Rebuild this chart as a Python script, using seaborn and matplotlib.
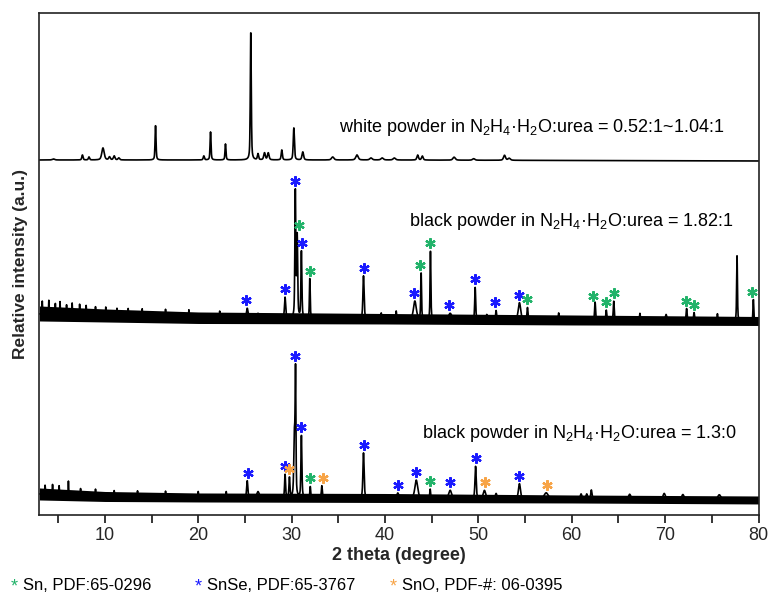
import numpy as np
import pandas as pd
import matplotlib
matplotlib.use("Agg")
import matplotlib.pyplot as plt
from matplotlib.ticker import MultipleLocator, NullLocator
import seaborn as sns

# ---------------------------------------------------------------------------
# XRD data: peak position 2θ (deg), height above background (a.u.), FWHM (deg)
# ---------------------------------------------------------------------------
white_pos = [4.5, 7.6, 8.3, 9.8, 10.5, 11.0, 11.5, 15.43, 20.6, 21.32, 22.92,
             25.63, 26.4, 27.1, 27.5, 28.95, 30.24, 31.2, 34.4, 37.0, 38.5,
             39.7, 41.0, 43.5, 44.0, 47.4, 49.5, 52.8, 53.3]
white_height = [1, 5, 3, 12, 3, 4, 2, 35, 4, 28, 16,
                130, 6, 7, 7, 10, 32, 8, 3, 5, 2,
                2, 2, 5, 4, 3, 1.5, 5, 2]
white_fwhm = [0.3, 0.15, 0.15, 0.3, 0.2, 0.2, 0.2, 0.12, 0.15, 0.12, 0.12,
              0.12, 0.15, 0.2, 0.2, 0.15, 0.15, 0.2, 0.3, 0.3, 0.3,
              0.3, 0.3, 0.2, 0.2, 0.3, 0.3, 0.25, 0.3]

mid_pos = [3.3, 4.0, 4.7, 5.2, 5.9, 6.5, 7.3, 8.0, 9.0, 10.1, 11.3, 12.5, 14.0,
           16.5, 19.0, 22.3, 25.25, 26.4, 29.3, 30.4, 30.6, 31.05, 31.95,
           37.7, 39.6, 41.2, 43.2, 43.87, 44.87, 46.98, 49.66, 50.9, 51.9, 54.4,
           55.26, 58.6, 62.5, 63.7, 64.5, 67.3, 70.1, 72.3, 73.1, 75.6, 77.7, 79.45]
mid_height = [13, 14, 11, 13, 10, 12, 11, 10, 9, 9, 8, 8, 8,
              8, 8, 7, 10, 5, 21, 126, 80, 68, 41,
              43, 6, 8, 18, 47, 70, 6, 32, 5, 9, 17,
              12, 7, 18, 10, 19, 7, 6, 12, 8, 7, 65, 22]
mid_fwhm = [0.06, 0.06, 0.06, 0.06, 0.06, 0.06, 0.06, 0.06, 0.06, 0.06, 0.06, 0.06, 0.06,
            0.06, 0.06, 0.06, 0.2, 0.2, 0.15, 0.12, 0.12, 0.12, 0.1,
            0.15, 0.08, 0.1, 0.35, 0.1, 0.1, 0.4, 0.12, 0.15, 0.12, 0.3,
            0.12, 0.1, 0.12, 0.12, 0.12, 0.1, 0.2, 0.12, 0.12, 0.1, 0.1, 0.1]

low_pos = [3.6, 4.4, 5.1, 6.1, 7.4, 9.0, 11.0, 13.5, 16.5, 20.0, 23.0,
           25.25, 26.4, 29.3, 29.77, 30.3, 30.42, 31.05, 32.0, 33.24,
           37.7, 41.37, 43.35, 44.84, 46.98, 49.7, 50.65, 51.9, 54.4, 57.26,
           61.0, 61.6, 62.1, 66.2, 69.9, 71.9, 75.8]
low_height = [9, 10, 9, 14, 7, 7, 6, 6, 6, 6, 6,
              17, 6, 23, 20, 60, 120, 63, 11, 12,
              45, 5, 18, 9, 8, 32, 8, 5, 15, 6,
              5, 5, 9, 5, 6, 5, 5]
low_fwhm = [0.08, 0.08, 0.08, 0.06, 0.08, 0.08, 0.08, 0.08, 0.08, 0.08, 0.08,
            0.15, 0.3, 0.12, 0.12, 0.15, 0.1, 0.12, 0.1, 0.12,
            0.15, 0.25, 0.35, 0.1, 0.35, 0.15, 0.3, 0.2, 0.25, 0.5,
            0.2, 0.2, 0.15, 0.3, 0.3, 0.3, 0.4]

# background level and noise band (above / below the background) per pattern
bg_x = [3, 10, 20, 40, 60, 80]
white_bg = [355, 355, 355, 355, 354.5, 354]
mid_bg = [201, 199, 197, 196, 195, 194]
mid_noise_hi = [8, 7, 6, 5.5, 5, 4.5]
mid_noise_lo = [7, 6, 5.5, 5, 5, 4.5]
low_bg = [21, 18.5, 17.5, 17, 16, 15]
low_noise_hi = [6, 5, 4.5, 4.5, 4, 4]
low_noise_lo = [6, 5, 4.5, 4.5, 4, 4]

# indexed reflections: phase label per marked peak
mid_mark_pos = [25.1, 29.3, 30.4, 30.74, 31.09, 32.0, 37.7, 43.16, 43.77, 44.8,
                46.9, 49.66, 51.83, 54.3, 55.2, 62.3, 63.7, 64.5, 72.25, 73.1, 79.27]
mid_mark_phase = ["SnSe", "SnSe", "SnSe", "Sn", "SnSe", "Sn", "SnSe", "SnSe", "Sn", "Sn",
                  "SnSe", "SnSe", "SnSe", "SnSe", "Sn", "Sn", "Sn", "Sn", "Sn", "Sn", "Sn"]
low_mark_pos = [25.28, 29.24, 29.77, 30.39, 31.03, 32.0, 33.4, 37.7, 41.4, 43.35,
                44.84, 47.0, 49.7, 50.7, 54.4, 57.3]
low_mark_phase = ["SnSe", "SnSe", "SnO", "SnSe", "SnSe", "Sn", "SnO", "SnSe", "SnSe", "SnSe",
                  "Sn", "SnSe", "SnSe", "SnO", "SnSe", "SnO"]

phase_colors = {"Sn": "#22b36a", "SnSe": "#1a1aff", "SnO": "#f7a447"}
legend_labels = [("Sn", "Sn, PDF:65-0296"),
                 ("SnSe", "SnSe, PDF:65-3767"),
                 ("SnO", "SnO, PDF-#: 06-0395")]

labels = [r"white powder in N$_\mathregular{2}$H$_\mathregular{4}$·H$_\mathregular{2}$O:urea = 0.52:1~1.04:1",
          r"black powder in N$_\mathregular{2}$H$_\mathregular{4}$·H$_\mathregular{2}$O:urea = 1.82:1",
          r"black powder in N$_\mathregular{2}$H$_\mathregular{4}$·H$_\mathregular{2}$O:urea = 1.3:0"]

# ---------------------------------------------------------------------------
sns.set_style("ticks")
plt.rcParams["font.family"] = ["Liberation Sans", "DejaVu Sans"]
plt.rcParams["mathtext.fontset"] = "custom"
plt.rcParams["mathtext.rm"] = "Liberation Sans"
plt.rcParams["mathtext.it"] = "Liberation Sans:italic"
plt.rcParams["mathtext.bf"] = "Liberation Sans:bold"
NARROW = ["Liberation Sans Narrow", "Liberation Sans", "DejaVu Sans"]

tt = np.linspace(3, 80, 3851)


def pattern(pos, height, fwhm, bg):
    y = np.interp(tt, bg_x, bg)
    for p, h, w in zip(pos, height, fwhm):
        d = (tt - p) / (w / 2)
        y = y + h * (0.5 / (1 + d ** 2) + 0.5 * np.exp(-np.log(2) * d ** 2))
    return y


white = pattern(white_pos, white_height, white_fwhm, white_bg)
mid = pattern(mid_pos, mid_height, mid_fwhm, mid_bg)
low = pattern(low_pos, low_height, low_fwhm, low_bg)

fig = plt.figure(figsize=(7.71, 6.04), dpi=100)
ax = fig.add_axes([0.0512, 0.1474, 0.9326, 0.8311])

# noise bands of the two black-powder scans
for bg, hi, lo in [(mid_bg, mid_noise_hi, mid_noise_lo), (low_bg, low_noise_hi, low_noise_lo)]:
    base = np.interp(tt, bg_x, bg)
    ax.fill_between(tt, base - np.interp(tt, bg_x, lo), base + np.interp(tt, bg_x, hi),
                    color="black", linewidth=0)

frames = pd.concat([pd.DataFrame({"two_theta": tt, "intensity": y, "sample": name})
                    for name, y in [("white", white), ("mid", mid), ("low", low)]])
sns.lineplot(data=frames, x="two_theta", y="intensity", units="sample", estimator=None,
             sort=False, color="black", linewidth=1.2, ax=ax)


def mark(curve, positions, phases):
    for p, ph in zip(positions, phases):
        win = (tt > p - 0.2) & (tt < p + 0.2)
        ax.plot([p], [curve[win].max() + 8], linestyle="none", marker=(6, 2, 0),
                markersize=7.5, markeredgewidth=1.6, color=phase_colors[ph])


mark(mid, mid_mark_pos, mid_mark_phase)
mark(low, low_mark_pos, low_mark_phase)

text_kw = dict(ha="right", va="center", fontsize=13, color="black")
ax.text(76.35, 387, labels[0], **text_kw)
ax.text(77.4, 293, labels[1], **text_kw)
ax.text(77.7, 81, labels[2], **text_kw)

ax.set_xlim(3, 80)
ax.set_ylim(0, 502)
ax.xaxis.set_major_locator(MultipleLocator(10))
ax.xaxis.set_minor_locator(MultipleLocator(5))
ax.yaxis.set_major_locator(NullLocator())
ax.tick_params(axis="x", which="both", direction="out", length=6, width=1.1, color="black",
               labelsize=13, pad=3)
for lab in ax.get_xticklabels():
    lab.set_family(NARROW)
for s in ax.spines.values():
    s.set_visible(True)
    s.set_linewidth(1.2)
    s.set_color("#222222")

ax.set_xlabel("2 theta (degree)", fontsize=13, fontweight="bold", family=NARROW, labelpad=2)
ax.set_ylabel("Relative intensity (a.u.)", fontsize=12.5, fontweight="bold", labelpad=8)

# phase key below the axes
key_x = [0.014, 0.252, 0.506]
for (ph, txt), kx in zip(legend_labels, key_x):
    fig.text(kx, 0.028, "*", color=phase_colors[ph], fontsize=13, va="center", family=NARROW)
    fig.text(kx + 0.016, 0.031, txt, color="black", fontsize=12, va="center", family=NARROW)

fig.savefig("out.png", dpi=100)
